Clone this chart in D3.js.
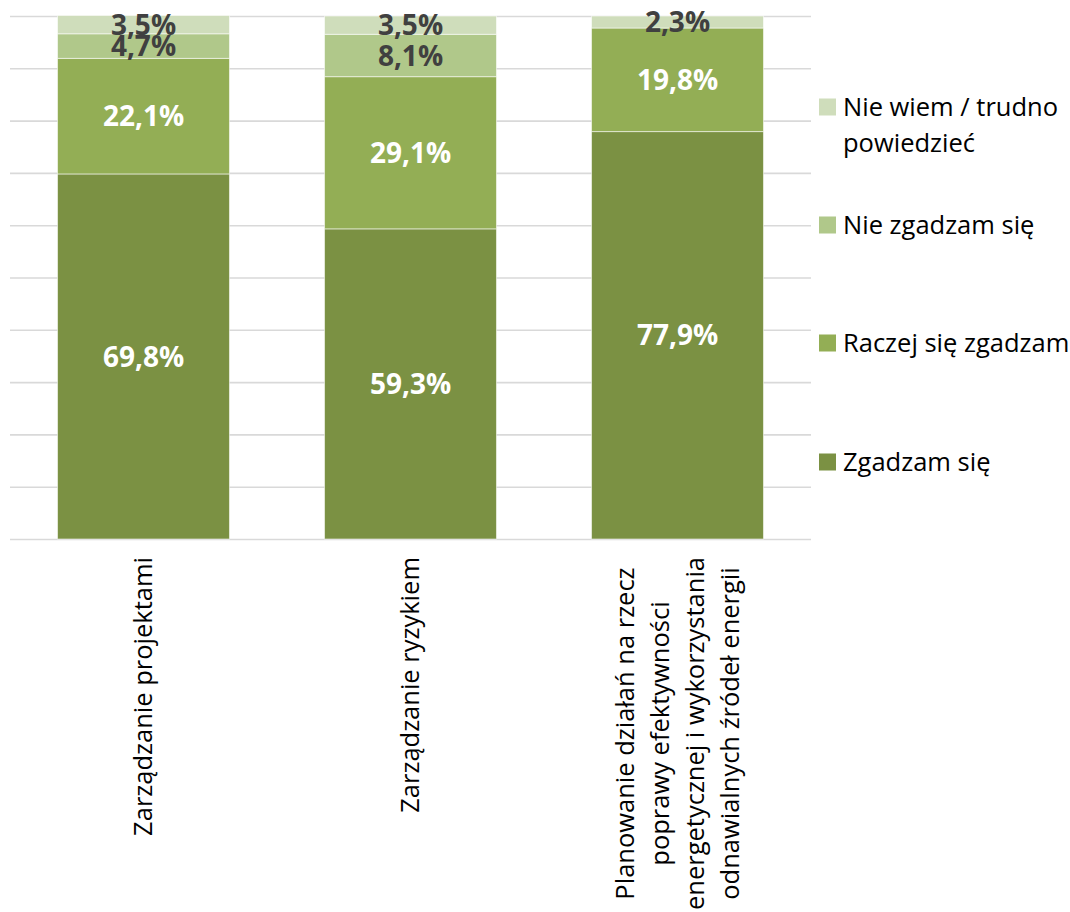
<!DOCTYPE html>
<html>
<head>
<meta charset="utf-8">
<script src="https://cdn.jsdelivr.net/npm/d3@7"></script>
<style>
  html, body { margin: 0; padding: 0; background: #fff; }
  svg { display: block; }
</style>
</head>
<body>
<svg id="chart" width="1070" height="912"></svg>
<script>
// Category labels ("\n" marks a line break in the axis label)
const categories = [
  "Zarządzanie projektami",
  "Zarządzanie ryzykiem",
  "Planowanie działań na rzecz\npoprawy efektywności\nenergetycznej i wykorzystania\nodnawialnych źródeł energii"
];

// Series, stacked bottom to top (percent of answers)
const seriesNames = ["Zgadzam się", "Raczej się zgadzam", "Nie zgadzam się", "Nie wiem / trudno powiedzieć"];
const zgadzam      = [69.8, 59.3, 77.9];
const raczej       = [22.1, 29.1, 19.8];
const nieZgadzam   = [4.7, 8.1, 0];
const nieWiem      = [3.5, 3.5, 2.3];

const seriesColors = ["#7b9143", "#93ae55", "#b0c88a", "#cfddbb"];
const labelColors  = ["#ffffff", "#ffffff", "#404040", "#404040"];

const yTicks = [0, 10, 20, 30, 40, 50, 60, 70, 80, 90, 100];

const FONT = "'Open Sans', sans-serif";

const svg = d3.select("#chart");
const plot = { left: 10, right: 811, top: 16, bottom: 539 };

const rows = categories.map((c, i) => ({
  cat: c,
  s0: zgadzam[i], s1: raczej[i], s2: nieZgadzam[i], s3: nieWiem[i]
}));
const keys = ["s0", "s1", "s2", "s3"];
const stacked = d3.stack().keys(keys)(rows);

const x = d3.scaleBand()
  .domain(categories)
  .range([plot.left, plot.right])
  .paddingInner(0.356)
  .paddingOuter(0.178);

const y = d3.scaleLinear().domain([0, 100]).range([plot.bottom, plot.top]);

// Horizontal gridlines
svg.append("g")
  .attr("transform", `translate(${plot.left},0)`)
  .call(d3.axisLeft(y).tickValues(yTicks).tickSize(-(plot.right - plot.left)).tickFormat(""))
  .call(g => g.select(".domain").remove())
  .call(g => g.selectAll(".tick line").attr("stroke", "#d9d9d9").attr("stroke-width", 1.6));

// Bars
const layers = svg.append("g").selectAll("g")
  .data(stacked)
  .join("g")
  .attr("fill", (d, i) => seriesColors[i]);

layers.selectAll("rect")
  .data(d => d.filter(p => p[1] - p[0] > 0))
  .join("rect")
  .attr("x", d => x(d.data.cat))
  .attr("width", x.bandwidth())
  .attr("y", d => y(d[1]))
  .attr("height", d => y(d[0]) - y(d[1]))
  .attr("stroke", "#ffffff")
  .attr("stroke-opacity", 0.55)
  .attr("stroke-width", 1);

// Value labels
const fmt = v => v.toFixed(1).replace(".", ",") + "%";
stacked.forEach((layer, si) => {
  svg.append("g").selectAll("text")
    .data(layer.filter(p => p[1] - p[0] > 0))
    .join("text")
    .attr("x", d => x(d.data.cat) + x.bandwidth() / 2)
    .attr("y", d => (y(d[0]) + y(d[1])) / 2)
    .attr("dy", "0.36em")
    .attr("text-anchor", "middle")
    .attr("font-family", FONT)
    .attr("font-weight", 700)
    .attr("font-size", 28)
    .attr("fill", labelColors[si])
    .text(d => fmt(d[1] - d[0]));
});

// Category axis labels, rotated, top-aligned under the axis
const labelTop = 557;
const lineH = 35;
categories.forEach(cat => {
  const lines = cat.split("\n");
  const cx = x(cat) + x.bandwidth() / 2;
  const g = svg.append("g").attr("transform", `translate(${cx},${labelTop}) rotate(-90)`);
  const t = g.append("text")
    .attr("font-family", FONT)
    .attr("font-size", 25.5)
    .attr("fill", "#000")
    .attr("text-anchor", "middle");
  lines.forEach((ln, i) => {
    t.append("tspan")
      .attr("x", 0)
      .attr("y", (i - (lines.length - 1) / 2) * lineH)
      .attr("dy", "0.35em")
      .text(ln);
  });
  let maxLen = 0;
  t.selectAll("tspan").each(function () { maxLen = Math.max(maxLen, this.getComputedTextLength()); });
  t.selectAll("tspan").attr("x", -maxLen / 2);
});

// Legend (top entry first)
const legendItems = [
  { color: seriesColors[3], lines: ["Nie wiem / trudno", "powiedzieć"] },
  { color: seriesColors[2], lines: [seriesNames[2]] },
  { color: seriesColors[1], lines: [seriesNames[1]] },
  { color: seriesColors[0], lines: [seriesNames[0]] }
];
const legendY = [107, 225, 343, 462];
const legend = svg.append("g");
legendItems.forEach((it, i) => {
  const g = legend.append("g").attr("transform", `translate(819,${legendY[i]})`);
  g.append("rect").attr("x", 0).attr("y", -8.5).attr("width", 17).attr("height", 17).attr("fill", it.color);
  const t = g.append("text")
    .attr("font-family", FONT)
    .attr("font-size", 25.5)
    .attr("fill", "#000");
  it.lines.forEach((ln, j) => {
    t.append("tspan").attr("x", 24).attr("y", j * 36).attr("dy", "0.35em").text(ln);
  });
});
</script>
</body>
</html>
